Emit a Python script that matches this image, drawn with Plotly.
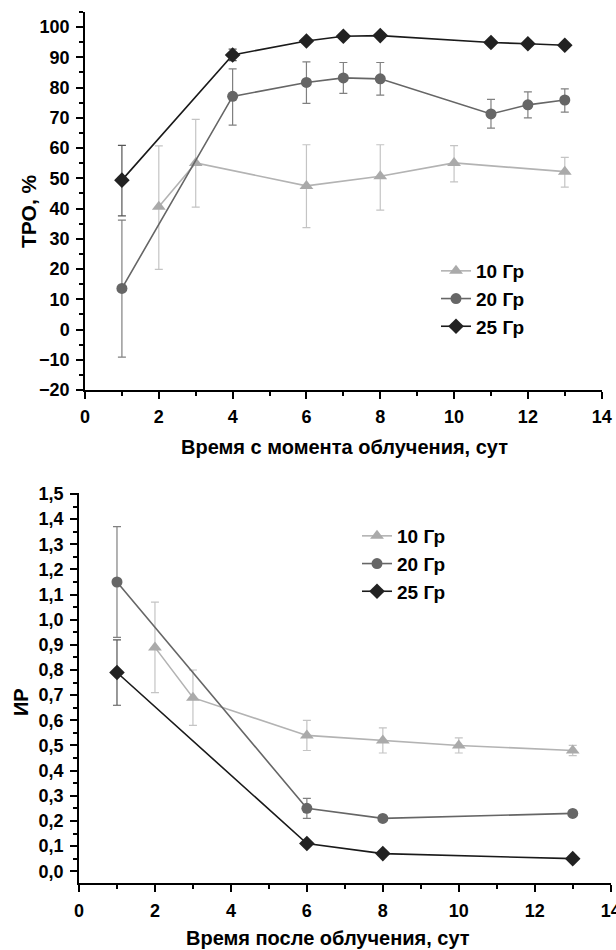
import plotly.graph_objects as go

# ---------- data: top chart (ТРО, %) ----------
top_x_10 = [2, 3, 6, 8, 10, 13]
top_y_10 = [40.6, 55.1, 47.5, 50.7, 55.1, 52.2]
top_ep_10 = [20.1, 14.4, 13.6, 10.4, 5.7, 4.7]
top_em_10 = [20.7, 14.6, 13.8, 11.2, 6.3, 5.1]

top_x_20 = [1, 4, 6, 7, 8, 11, 12, 13]
top_y_20 = [13.6, 77.1, 81.7, 83.2, 82.9, 71.3, 74.3, 75.9]
top_ep_20 = [22.6, 9.1, 6.8, 5.1, 5.4, 4.8, 4.3, 3.7]
top_em_20 = [22.7, 9.5, 6.9, 5.1, 5.4, 4.7, 4.3, 4.0]

top_x_25 = [1, 4, 6, 7, 8, 11, 12, 13]
top_y_25 = [49.4, 90.8, 95.4, 97.0, 97.2, 94.9, 94.5, 94.0]
top_ep_25 = [11.5, 1.9, 0.6, 0.6, 0.5, 0.5, 0.5, 0.5]
top_em_25 = [11.8, 1.9, 0.6, 0.6, 0.5, 0.5, 0.5, 0.5]

# ---------- data: bottom chart (ИР) ----------
bot_x_10 = [2, 3, 6, 8, 10, 13]
bot_y_10 = [0.89, 0.69, 0.54, 0.52, 0.50, 0.48]
bot_ep_10 = [0.18, 0.11, 0.06, 0.05, 0.03, 0.02]
bot_em_10 = [0.18, 0.11, 0.06, 0.05, 0.03, 0.02]

bot_x_20 = [1, 6, 8, 13]
bot_y_20 = [1.15, 0.25, 0.21, 0.23]
bot_ep_20 = [0.22, 0.04, 0.0, 0.0]
bot_em_20 = [0.22, 0.04, 0.0, 0.0]

bot_x_25 = [1, 6, 8, 13]
bot_y_25 = [0.79, 0.11, 0.07, 0.05]
bot_ep_25 = [0.13, 0.0, 0.0, 0.0]
bot_em_25 = [0.13, 0.0, 0.0, 0.0]

series_names = ["10 Гр", "20 Гр", "25 Гр"]
top_x_title = "Время с момента облучения, сут"
bot_x_title = "Время после облучения, сут"
top_y_title = "ТРО, %"
bot_y_title = "ИР"

FONT = "Liberation Sans, Arial, sans-serif"
styles = [
    dict(line="#b3b3b3", marker="#aaaaaa", err="#c4c4c4", symbol="triangle-up", size=12),
    dict(line="#666666", marker="#666666", err="#808080", symbol="circle", size=11),
    dict(line="#1a1a1a", marker="#222222", err="#555555", symbol="diamond", size=12),
]

fig = go.Figure()

top_sets = [(top_x_10, top_y_10, top_ep_10, top_em_10),
            (top_x_20, top_y_20, top_ep_20, top_em_20),
            (top_x_25, top_y_25, top_ep_25, top_em_25)]
bot_sets = [(bot_x_10, bot_y_10, bot_ep_10, bot_em_10),
            (bot_x_20, bot_y_20, bot_ep_20, bot_em_20),
            (bot_x_25, bot_y_25, bot_ep_25, bot_em_25)]

for (xs, ys, ep, em), name, st in zip(top_sets, series_names, styles):
    fig.add_trace(go.Scatter(
        x=xs, y=ys, name=name, mode="lines+markers",
        line=dict(color=st["line"], width=1.6),
        marker=dict(symbol=st["symbol"], size=st["size"], color=st["marker"]),
        error_y=dict(type="data", array=ep, arrayminus=em, color=st["err"],
                     thickness=1.2, width=4),
        xaxis="x", yaxis="y", legend="legend",
    ))

for (xs, ys, ep, em), name, st in zip(bot_sets, series_names, styles):
    fig.add_trace(go.Scatter(
        x=xs, y=ys, name=name, mode="lines+markers",
        line=dict(color=st["line"], width=1.6),
        marker=dict(symbol=st["symbol"], size=st["size"], color=st["marker"]),
        error_y=dict(type="data", array=ep, arrayminus=em, color=st["err"],
                     thickness=1.2, width=4),
        xaxis="x2", yaxis="y2", legend="legend2",
    ))

W, H = 616, 950

axis_common = dict(
    showline=True, linecolor="black", linewidth=1.5, mirror=False,
    showgrid=False, zeroline=False, automargin=False,
    ticks="outside", ticklen=7, tickwidth=1.5, tickcolor="black",
    ticklabelstandoff=3, ticklabeloverflow="allow",
    tickfont=dict(family=FONT, size=18, color="black", weight="bold"),
)
minor_common = dict(ticks="outside", ticklen=4, tickwidth=1.5, tickcolor="black")

fig.update_layout(
    width=W, height=H, margin=dict(l=0, r=0, t=0, b=0, autoexpand=False),
    paper_bgcolor="white", plot_bgcolor="white",
    separators=", ",
    font=dict(family=FONT, color="black"),
    xaxis=dict(domain=[85 / W, 601.7 / W], range=[0, 14], dtick=2, anchor="y",
               minor=dict(dtick=1, **minor_common), **axis_common),
    yaxis=dict(domain=[1 - 390 / H, 1 - 12 / H], range=[-20, 105], dtick=10, anchor="x",
               minor=dict(dtick=5, **minor_common), **axis_common),
    xaxis2=dict(domain=[79 / W, 610.7 / W], range=[0, 14], dtick=2, anchor="y2",
                minor=dict(dtick=1, **minor_common), **axis_common),
    yaxis2=dict(domain=[1 - 883.3 / H, 1 - 492.7 / H], range=[-0.048, 1.505], dtick=0.1,
                tickformat=".1f", anchor="x2",
                minor=dict(dtick=0.05, **minor_common), **axis_common),
    legend=dict(x=436 / W, y=1 - 252 / H, xanchor="left", yanchor="top",
                bgcolor="rgba(0,0,0,0)",
                font=dict(family=FONT, size=19, color="black", weight="bold")),
    legend2=dict(x=357 / W, y=1 - 517 / H, xanchor="left", yanchor="top",
                 bgcolor="rgba(0,0,0,0)",
                 font=dict(family=FONT, size=19, color="black", weight="bold")),
    showlegend=True,
)

title_font = dict(family=FONT, size=20, color="black", weight="bold")
fig.add_annotation(text=top_x_title, xref="paper", yref="paper",
                   x=344 / W, y=1 - 447 / H, showarrow=False, font=title_font,
                   xanchor="center", yanchor="middle")
fig.add_annotation(text=bot_x_title, xref="paper", yref="paper",
                   x=328 / W, y=1 - 938 / H, showarrow=False, font=title_font,
                   xanchor="center", yanchor="middle")
fig.add_annotation(text=top_y_title, xref="paper", yref="paper",
                   x=28 / W, y=1 - 211 / H, showarrow=False,
                   font=dict(family=FONT, size=21, color="black", weight="bold"),
                   textangle=-90, xanchor="center", yanchor="middle")
fig.add_annotation(text=bot_y_title, xref="paper", yref="paper",
                   x=21 / W, y=1 - 702 / H, showarrow=False, font=title_font,
                   textangle=-90, xanchor="center", yanchor="middle")

fig.write_html("out.html")
